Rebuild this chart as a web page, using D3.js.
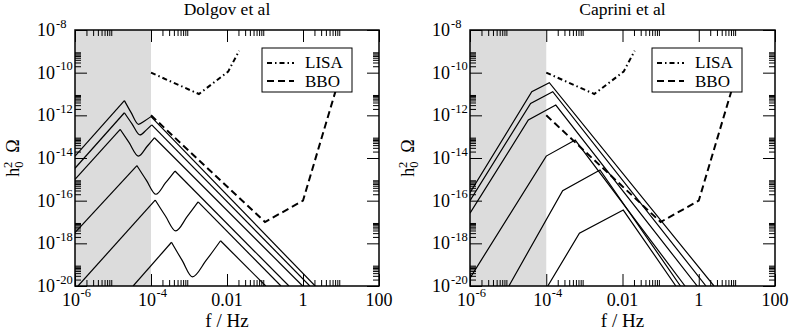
<!DOCTYPE html>
<html lang="en">
  <head>
    <meta charset="utf-8" />
    <title>GW spectra</title>
    <script src="https://d3js.org/d3.v7.min.js"></script>
    <style>
      body {
        margin: 0;
        background: #fff;
      }
      text {
        font-family: "Liberation Serif", "Times New Roman", serif;
        fill: #000;
      }
    </style>
  </head>
  <body>
    <svg id="chart" width="789" height="332"></svg>
    <script>
      // all values are log10: [log10 f (Hz), log10 h0^2 Omega]
      const xMajor = [-6, -4, -2, 0, 2];
      const xLabels = [["10", "-6"], ["10", "-4"], ["0.01", ""], ["1", ""], ["100", ""]];
      const yMajor = [-20, -18, -16, -14, -12, -10, -8];
      const minorMult = [2, 3, 4, 5, 6, 7, 8, 9];
      const shadeBand = [-6, -4];

      const lisa = [[-4, -10], [-2.74, -11.0], [-1.97, -9.95], [-1.68, -8.97]];
      const bbo = [[-4, -12], [-1, -17], [0, -16], [1, -10]];

      // Dolgov: start, peak1, dip (3 pts), peak2, end
      const dolgovA = [[-6, -13.91], [-4.7, -11.31], [-4.53, -11.85], [-4.33, -12.42], [-4.16, -12.25], [-4.0, -12.06], [0.32, -20]];
      const dolgovB = [[-6, -14.48], [-4.7, -11.88], [-4.5, -12.4], [-4.29, -12.92], [-4.12, -12.68], [-3.98, -12.45], [0.18, -20]];
      const dolgovC = [[-6, -15.0], [-4.81, -12.66], [-4.58, -13.27], [-4.33, -13.91], [-4.1, -13.45], [-3.91, -13.05], [-0.01, -20]];
      const dolgovD = [[-6, -17.5], [-4.37, -14.36], [-4.12, -15.05], [-3.87, -15.7], [-3.62, -15.17], [-3.37, -14.61], [-0.37, -20]];
      const dolgovE = [[-5.92, -20], [-3.89, -15.97], [-3.62, -16.72], [-3.35, -17.42], [-3.05, -16.75], [-2.76, -16.06], [-0.58, -20]];
      const dolgovF = [[-4.47, -20], [-3.46, -17.95], [-3.18, -18.8], [-2.91, -19.57], [-2.55, -18.8], [-2.17, -17.88], [-0.98, -20]];

      // Caprini: start, bend, peak, end
      const caprini1 = [[-6, -15.63], [-4.38, -10.89], [-3.92, -10.47], [0.4, -20]];
      const caprini2 = [[-6, -16.0], [-4.41, -11.44], [-3.83, -10.89], [0.19, -20]];
      const caprini3 = [[-6, -16.59], [-4.47, -12.22], [-3.75, -11.52], [-0.04, -20]];
      const caprini4 = [[-6, -19.63], [-4.0, -13.91], [-3.24, -13.16], [-0.36, -20]];
      const caprini5 = [[-4.98, -20], [-3.57, -15.53], [-2.59, -14.56], [-0.48, -20]];
      const caprini6 = [[-3.96, -20], [-3.13, -17.53], [-1.98, -16.44], [-0.6, -20]];

      const svg = d3.select("#chart");
      const plotTop = 30;
      const plotBottom = 286;
      const p10 = (e) => Math.pow(10, e);

      function drawPanel(cfg) {
        const x = d3.scaleLog().domain([p10(-6), p10(2)]).range([cfg.left, cfg.right]);
        const y = d3.scaleLog().domain([p10(-20), p10(-8)]).range([plotBottom, plotTop]);
        const w = cfg.right - cfg.left;
        const h = plotBottom - plotTop;
        const g = svg.append("g");

        g.append("clipPath")
          .attr("id", "clip-" + cfg.id)
          .append("rect")
          .attr("x", cfg.left)
          .attr("y", plotTop)
          .attr("width", w)
          .attr("height", h);

        // shaded region
        g.append("rect")
          .attr("x", x(p10(shadeBand[0])))
          .attr("y", plotTop)
          .attr("width", x(p10(shadeBand[1])) - x(p10(shadeBand[0])))
          .attr("height", h)
          .attr("fill", "#dcdcdc");

        const lin = d3.line().x((d) => x(p10(d[0]))).y((d) => y(p10(d[1])));
        const smooth = d3
          .line()
          .x((d) => x(p10(d[0])))
          .y((d) => y(p10(d[1])))
          .curve(d3.curveMonotoneX);

        const plot = g.append("g").attr("clip-path", `url(#clip-${cfg.id})`);

        cfg.curves.forEach((c) => {
          let parts;
          if (cfg.dips) {
            parts = [lin(c.slice(0, 2)), smooth(c.slice(1, 6)), lin(c.slice(5))];
          } else {
            parts = [lin(c)];
          }
          parts.forEach((d) => {
            plot.append("path").attr("d", d).attr("fill", "none")
              .attr("stroke", "#000").attr("stroke-width", 1.2);
          });
        });

        plot.append("path").attr("d", lin(lisa)).attr("fill", "none")
          .attr("stroke", "#000").attr("stroke-width", 2)
          .attr("stroke-dasharray", "5,3,1.5,3");
        plot.append("path").attr("d", lin(bbo)).attr("fill", "none")
          .attr("stroke", "#000").attr("stroke-width", 2)
          .attr("stroke-dasharray", "7,4");

        // ticks on all four sides, pointing in
        const majX = xMajor.map(p10);
        const minX = xMajor.slice(0, -1).flatMap((e) => minorMult.map((m) => m * p10(e)));
        const majY = yMajor.map(p10);
        const minY = yMajor.slice(0, -1).flatMap((e) => minorMult.map((m) => m * p10(e)));

        const tickSets = [
          [d3.axisBottom, x, `translate(0,${plotBottom})`],
          [d3.axisTop, x, `translate(0,${plotTop})`],
          [d3.axisLeft, y, `translate(${cfg.left},0)`],
          [d3.axisRight, y, `translate(${cfg.right},0)`],
        ];
        tickSets.forEach(([axisFn, scale, tr], i) => {
          const isX = i < 2;
          [[isX ? majX : majY, 12], [isX ? minX : minY, 6]].forEach(([vals, len]) => {
            g.append("g")
              .attr("transform", tr)
              .call(axisFn(scale).tickValues(vals).tickSize(-len).tickFormat(""))
              .call((a) => a.select(".domain").remove())
              .call((a) => a.selectAll("text").remove());
          });
        });

        g.append("rect")
          .attr("x", cfg.left)
          .attr("y", plotTop)
          .attr("width", w)
          .attr("height", h)
          .attr("fill", "none")
          .attr("stroke", "#000")
          .attr("stroke-width", 1.5);

        // x tick labels
        xMajor.forEach((e, i) => {
          const [base, sup] = xLabels[i];
          const tx = x(p10(e));
          if (sup) {
            g.append("text").attr("x", tx + 5).attr("y", 306)
              .attr("text-anchor", "end").style("font-size", "18px").text(base);
            g.append("text").attr("x", tx + 5.5).attr("y", 297)
              .style("font-size", "12.5px").text(sup);
          } else {
            g.append("text").attr("x", tx).attr("y", 306)
              .attr("text-anchor", "middle").style("font-size", "18px").text(base);
          }
        });

        // y tick labels
        yMajor.forEach((e) => {
          const ty = y(p10(e));
          g.append("text").attr("x", cfg.left - 20).attr("y", ty + 6)
            .attr("text-anchor", "end").style("font-size", "18px").text("10");
          g.append("text").attr("x", cfg.left - 19).attr("y", ty - 2.5)
            .style("font-size", "12.5px").text(String(e));
        });

        const cx = (cfg.left + cfg.right) / 2;
        g.append("text").attr("x", cx).attr("y", 15)
          .attr("text-anchor", "middle").style("font-size", "17.5px").text(cfg.title);
        g.append("text").attr("x", cx).attr("y", 327)
          .attr("text-anchor", "middle").style("font-size", "19px").text("f / Hz");

        const yl = g.append("text")
          .attr("transform", `translate(${cfg.left - 56},${(plotTop + plotBottom) / 2}) rotate(-90)`)
          .attr("text-anchor", "middle")
          .style("font-size", "18px");
        yl.append("tspan").text("h");
        yl.append("tspan").attr("dy", 4).style("font-size", "12.5px").text("0");
        yl.append("tspan").attr("dx", -6.5).attr("dy", -11).style("font-size", "12.5px").text("2");
        yl.append("tspan").attr("dy", 7).text("\u00a0\u00a0\u03a9");

        // legend
        const lx = cfg.legendX;
        g.append("rect").attr("x", lx).attr("y", 48).attr("width", 90).attr("height", 44)
          .attr("fill", "#fff").attr("stroke", "#000").attr("stroke-width", 1);
        [["LISA", "5,3,1.5,3", 63, 68], ["BBO", "7,4", 81, 87]].forEach(([name, dash, ly, ty]) => {
          g.append("line").attr("x1", lx + 5).attr("x2", lx + 32).attr("y1", ly).attr("y2", ly)
            .attr("stroke", "#000").attr("stroke-width", 2).attr("stroke-dasharray", dash);
          g.append("text").attr("x", lx + 43).attr("y", ty)
            .style("font-size", "17px").text(name);
        });
      }

      drawPanel({
        id: "dolgov",
        left: 75,
        right: 379,
        legendX: 262,
        title: "Dolgov et al",
        dips: true,
        curves: [dolgovA, dolgovB, dolgovC, dolgovD, dolgovE, dolgovF],
      });

      drawPanel({
        id: "caprini",
        left: 470,
        right: 775,
        legendX: 652,
        title: "Caprini et al",
        dips: false,
        curves: [caprini1, caprini2, caprini3, caprini4, caprini5, caprini6],
      });
    </script>
  </body>
</html>
